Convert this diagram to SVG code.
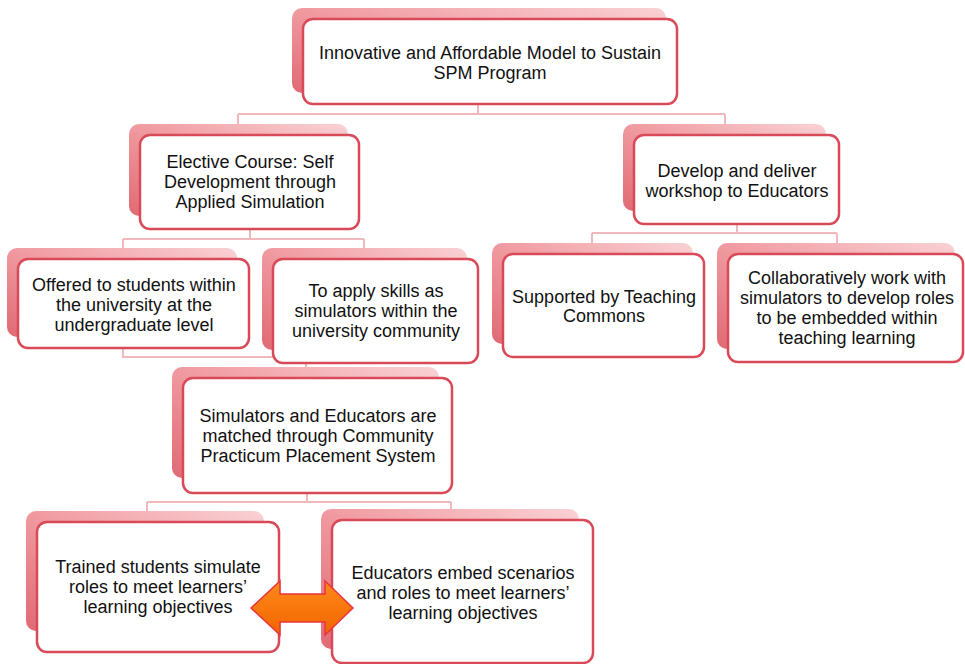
<svg xmlns="http://www.w3.org/2000/svg" width="965" height="664" viewBox="0 0 965 664">
<defs>
<linearGradient id="back" x1="1" y1="0" x2="0" y2="1">
<stop offset="0" stop-color="#f9d2d5"/>
<stop offset="0.5" stop-color="#f09aa0"/>
<stop offset="1" stop-color="#e06a74"/>
</linearGradient>
<linearGradient id="orange" x1="0" y1="0" x2="0" y2="1">
<stop offset="0" stop-color="#ff8a1a"/>
<stop offset="1" stop-color="#f26400"/>
</linearGradient>
<style>
.back{fill:url(#back);stroke:none}
.front{fill:#ffffff;stroke:#d94a58;stroke-width:2.5}
.conn{fill:none;stroke:#efb9bc;stroke-width:2}
text{font-family:"Liberation Sans",Arial,sans-serif;font-size:18px;fill:#111111;text-anchor:middle}
</style>
</defs>
<rect width="965" height="664" fill="#ffffff"/>
<g id="connectors">
<path class="conn" d="M478 104V114M238 114H725M238 114V135M725 114V135"/>
<path class="conn" d="M250 229V239M123 239H364M123 239V259M364 239V259"/>
<path class="conn" d="M737 224V233M592 233H837M592 233V254M837 233V254"/>
<path class="conn" d="M123 348V357H306M306 363V378"/>
<path class="conn" d="M307 493V502M147 502H451M147 502V522M451 502V520"/>
</g>
<g id="n-top">
<rect class="back" x="292" y="8" width="374" height="85" rx="10"/>
<rect class="front" x="303" y="19" width="374" height="85" rx="10"/>
<text x="490" y="59">Innovative and Affordable Model to Sustain</text>
<text x="490" y="79">SPM Program</text>
</g>
<g id="n-elective">
<rect class="back" x="129" y="124" width="219" height="92" rx="10"/>
<rect class="front" x="140" y="135" width="219" height="94" rx="10"/>
<text x="250" y="168">Elective Course: Self</text>
<text x="250" y="188">Development through</text>
<text x="250" y="208">Applied Simulation</text>
</g>
<g id="n-develop">
<rect class="back" x="623" y="124" width="203" height="87" rx="10"/>
<rect class="front" x="634" y="135" width="205" height="89" rx="10"/>
<text x="737" y="177">Develop and deliver</text>
<text x="737" y="197">workshop to Educators</text>
</g>
<g id="n-offered">
<rect class="back" x="7" y="248" width="230" height="89" rx="10"/>
<rect class="front" x="18" y="259" width="231" height="89" rx="10"/>
<text x="134" y="291">Offered to students within</text>
<text x="134" y="311">the university at the</text>
<text x="134" y="331">undergraduate level</text>
</g>
<g id="n-toapply">
<rect class="back" x="262" y="248" width="205" height="102" rx="10"/>
<rect class="front" x="273" y="259" width="205" height="104" rx="10"/>
<text x="376" y="297">To apply skills as</text>
<text x="376" y="317">simulators within the</text>
<text x="376" y="337">university community</text>
</g>
<g id="n-supported">
<rect class="back" x="492" y="243" width="201" height="101" rx="10"/>
<rect class="front" x="503" y="254" width="201" height="103" rx="10"/>
<text x="604" y="303">Supported by Teaching</text>
<text x="604" y="322">Commons</text>
</g>
<g id="n-collab">
<rect class="back" x="717" y="243" width="238" height="106" rx="10"/>
<rect class="front" x="728" y="254" width="235" height="108" rx="10"/>
<text x="847" y="284">Collaboratively work with</text>
<text x="847" y="304">simulators to develop roles</text>
<text x="847" y="324">to be embedded within</text>
<text x="847" y="344">teaching learning</text>
</g>
<g id="n-simulators">
<rect class="back" x="172" y="367" width="267" height="111" rx="10"/>
<rect class="front" x="183" y="378" width="269" height="115" rx="10"/>
<text x="318" y="422">Simulators and Educators are</text>
<text x="318" y="442">matched through Community</text>
<text x="318" y="462">Practicum Placement System</text>
</g>
<g id="n-trained">
<rect class="back" x="26" y="511" width="238" height="120" rx="10"/>
<rect class="front" x="37" y="522" width="242" height="130" rx="10"/>
<text x="158" y="573">Trained students simulate</text>
<text x="158" y="593">roles to meet learners’</text>
<text x="158" y="613">learning objectives</text>
</g>
<g id="n-educators">
<rect class="back" x="321" y="509" width="258" height="140" rx="10"/>
<rect class="front" x="332" y="520" width="261" height="143" rx="10"/>
<text x="463" y="579">Educators embed scenarios</text>
<text x="463" y="599">and roles to meet learners’</text>
<text x="463" y="619">learning objectives</text>
</g>
<g id="double-arrow">
<polygon points="251,608 280,581 280,594 325,594 325,581 353,608 325,635 325,622 280,622 280,635" fill="url(#orange)" stroke="#e8343c" stroke-width="1.5" stroke-linejoin="miter"/>
</g>
</svg>
